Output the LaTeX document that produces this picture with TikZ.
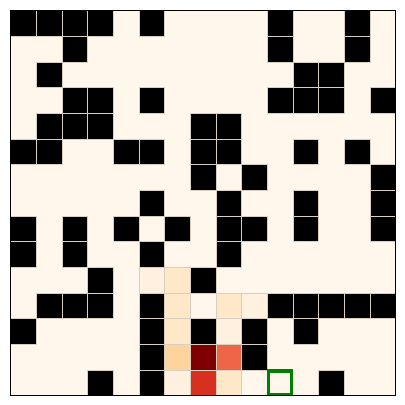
\documentclass[tikz,border=0pt]{standalone}
\usepackage{xcolor}
\usepackage{tikz}
\usetikzlibrary{positioning}
\definecolor{mazecream}{HTML}{FFF7EC}
\definecolor{mazeedge}{HTML}{D9CFC1}
\definecolor{heatpale}{HTML}{FFF0DF}
\definecolor{heatlight}{HTML}{FEE8C8}
\definecolor{heatmid}{HTML}{FDD49E}
\definecolor{heatcoral}{HTML}{EF6548}
\definecolor{heatred}{HTML}{D7301F}
\definecolor{heatdark}{HTML}{7F0000}
\definecolor{goalgreen}{HTML}{008000}
\tikzset{
  cell/.style={draw=mazeedge, line width=0.3pt},
  wall/.style={cell, fill=black},
  goalbox/.style={draw=goalgreen, line width=3.8pt},
}
\begin{document}
\begin{tikzpicture}
  \useasboundingbox (-0.41,-15.37) rectangle (15.37,0.41);
  \fill[mazecream] (0,-15) rectangle (15,0);
  % walls, one row at a time
  \foreach \r/\cols in {0/{0,1,2,3,5,10,13}, 1/{2,10,13}, 2/{1,11,12},
      3/{2,3,5,10,11,12,14}, 4/{1,2,3,7,8}, 5/{0,1,4,5,7,8,11,13},
      6/{7,9,14}, 7/{5,8,11,14}, 8/{0,2,4,6,8,9,11,14}, 9/{0,2,5,8},
      10/{3,7}, 11/{1,2,3,5,10,11,12,13,14}, 12/{0,5,7,9,11},
      13/{5,9}, 14/{3,5,12}} {
    \foreach \c in \cols {
      \draw[wall] (\c,-\r) rectangle ++(1,-1);
    }
  }
  % visit counts
  \foreach \c/\r/\col in {5/10/heatpale, 6/10/heatlight, 6/11/heatlight,
      8/11/heatlight, 9/11/heatpale, 6/12/heatlight, 8/12/heatpale,
      6/13/heatmid, 7/13/heatdark, 8/13/heatcoral,
      6/14/heatpale, 7/14/heatred, 8/14/heatlight} {
    \draw[cell, fill=\col] (\c,-\r) rectangle ++(1,-1);
  }
  % goal
  \draw[goalbox] (10.05,-14.05) rectangle (10.95,-14.95);
  \draw[line width=0.8pt] (0,0) rectangle (15,-15);
\end{tikzpicture}
\end{document}
